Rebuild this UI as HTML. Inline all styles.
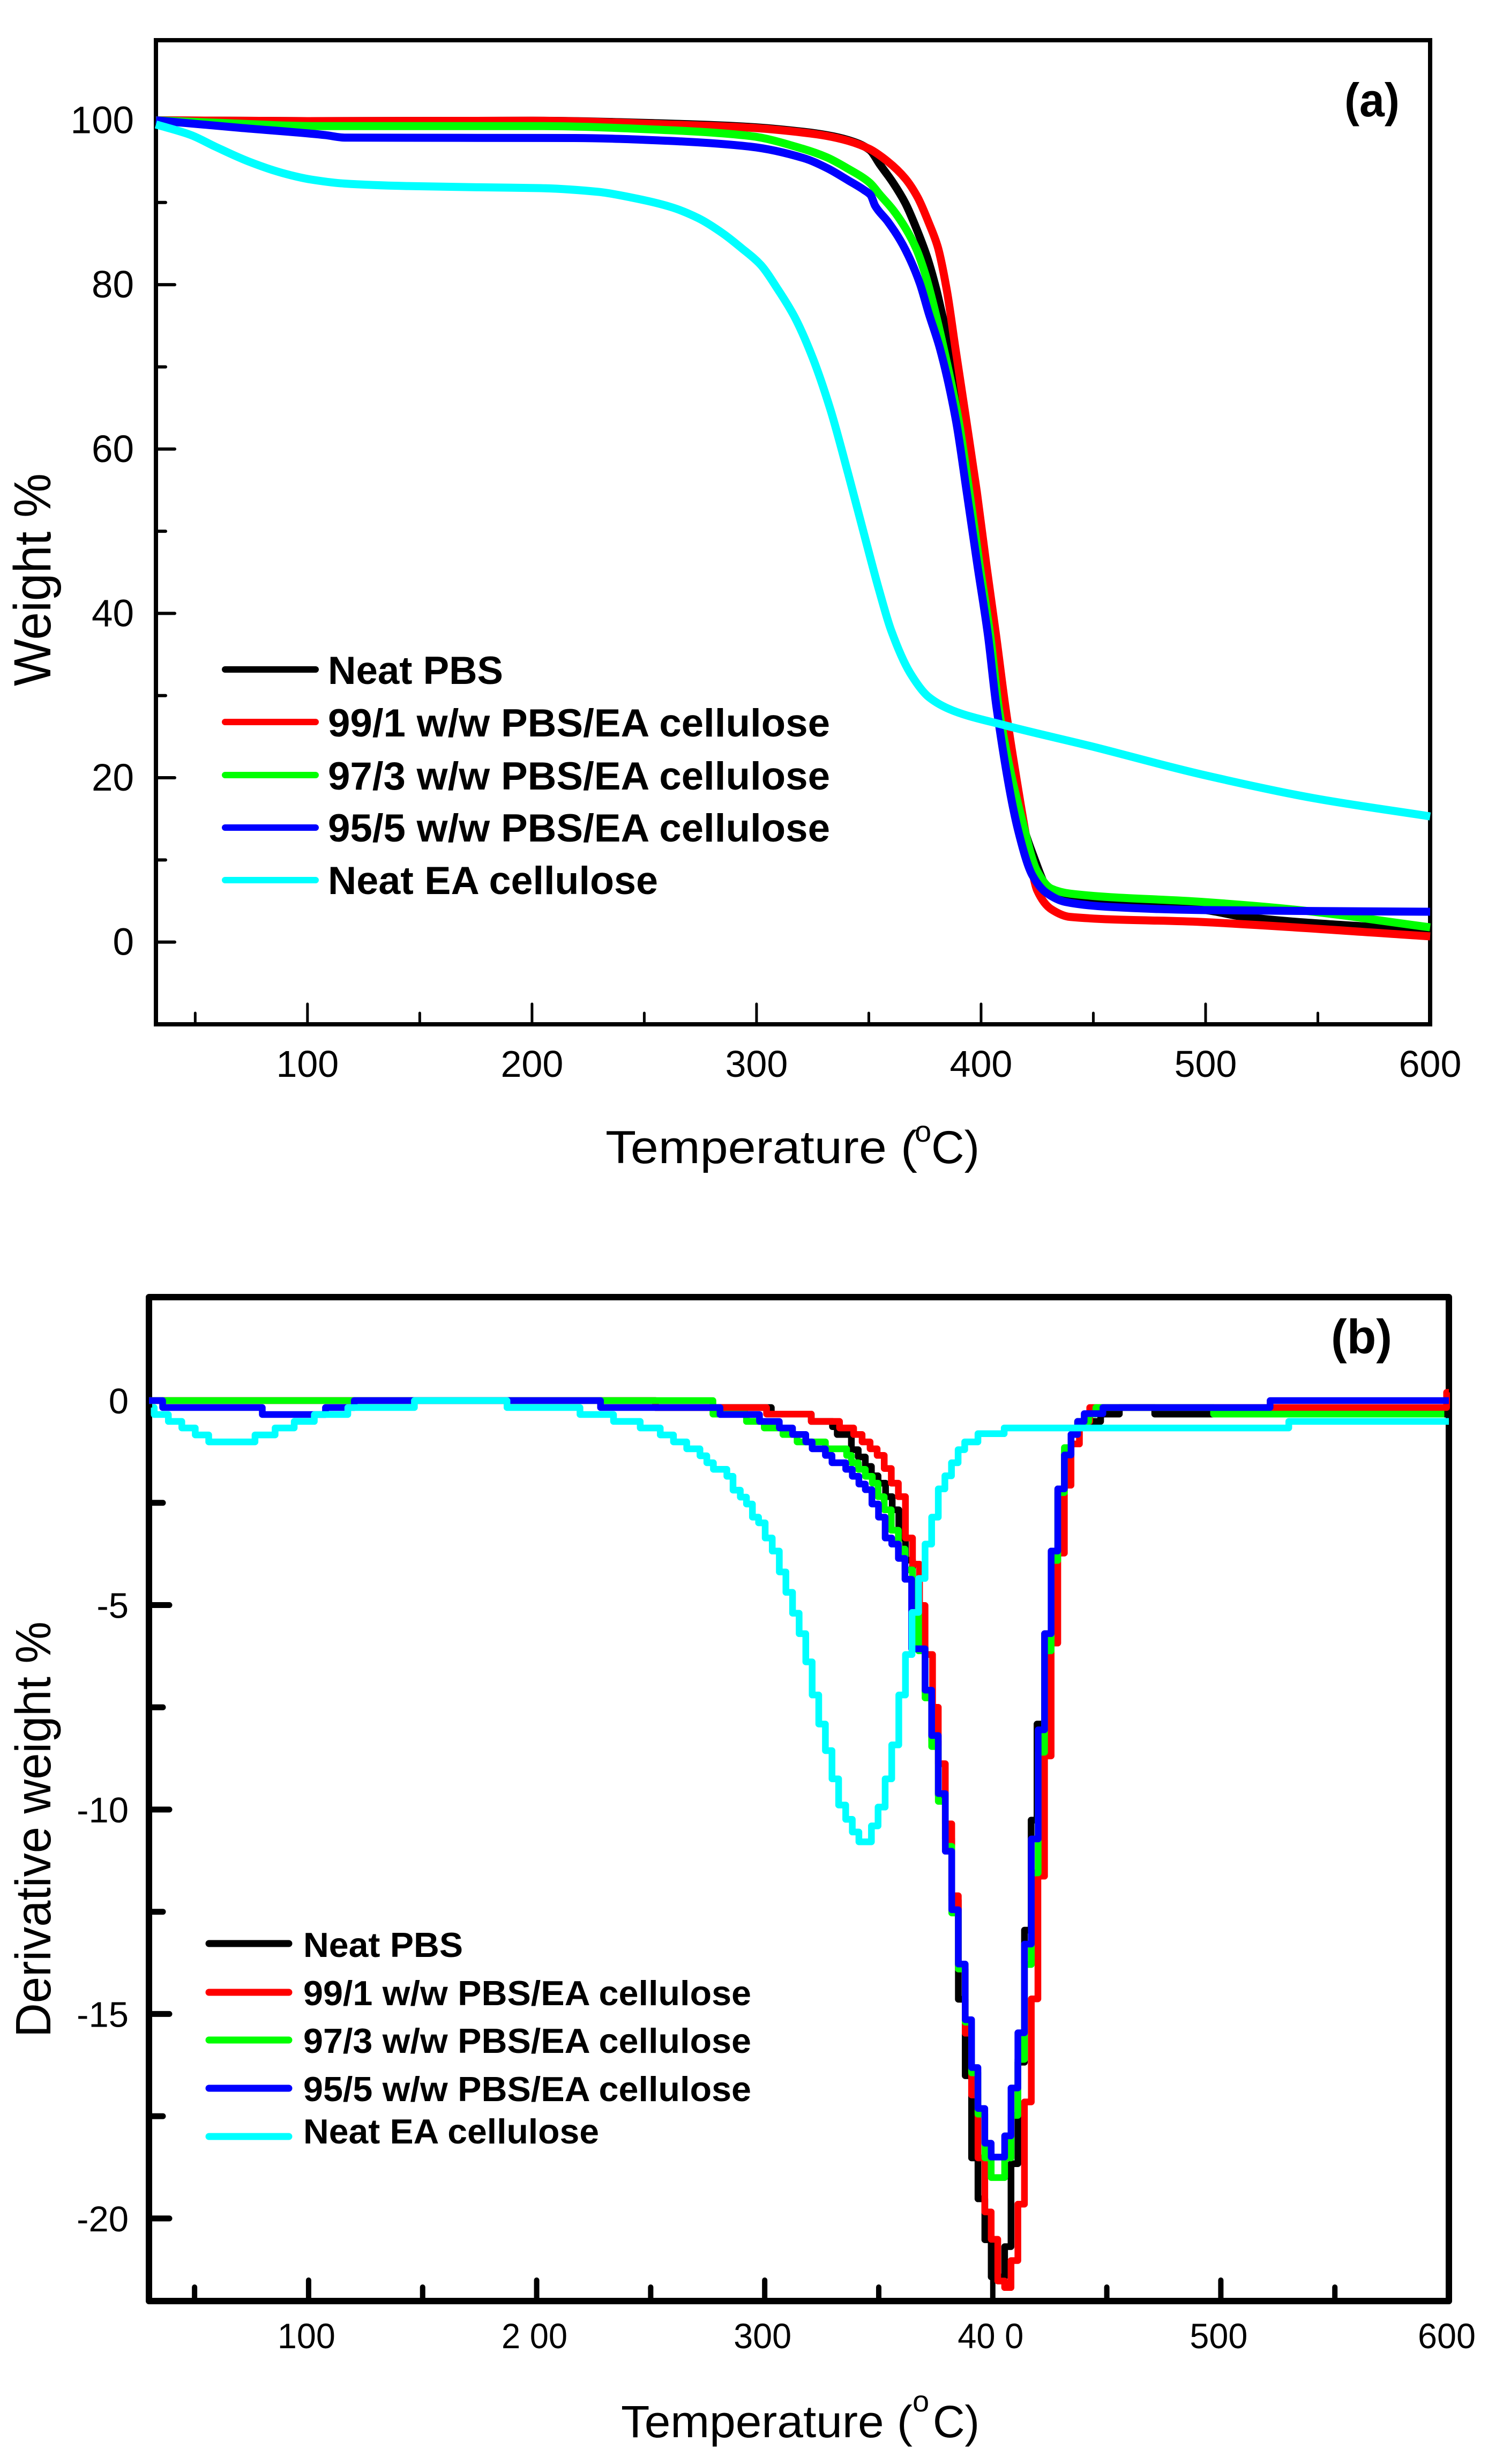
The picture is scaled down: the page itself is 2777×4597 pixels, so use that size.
<!DOCTYPE html>
<html lang="en">
<head>
<meta charset="utf-8">
<title>TGA and DTG curves of PBS/EA cellulose blends</title>
<style>
html,body{margin:0;padding:0;background:#fff;}
svg{display:block;}
text{font-family:"Liberation Sans",sans-serif;fill:#000;}
.legend{font-weight:bold;}
</style>
</head>
<body>
<svg id="figure" xmlns="http://www.w3.org/2000/svg" width="2777" height="4597" viewBox="0 0 2777 4597">
  <rect width="2777" height="4597" fill="#fff"/>
  <g id="panelA">
    <g id="axesA"></g>
    <g id="linesA"></g>
    <text x="2509" y="217" font-size="88" font-weight="bold" textLength="103" lengthAdjust="spacingAndGlyphs">(a)</text>
    <text transform="translate(94,1280) rotate(-90)" font-size="97" textLength="397" lengthAdjust="spacingAndGlyphs">Weight %</text>
    <text x="1130" y="2170" font-size="86" textLength="582" lengthAdjust="spacingAndGlyphs">Temperature (</text>
    <text x="1707" y="2130" font-size="56">o</text>
    <text x="1738" y="2170" font-size="86" textLength="90" lengthAdjust="spacingAndGlyphs">C)</text>
    <g>
      <g fill="none" stroke-width="12" stroke-linecap="round">
        <line x1="420" x2="589" y1="1249" y2="1249" stroke="#000"/>
        <line x1="420" x2="589" y1="1347" y2="1347" stroke="#f00"/>
        <line x1="420" x2="589" y1="1446" y2="1446" stroke="#0f0"/>
        <line x1="420" x2="589" y1="1544" y2="1544" stroke="#00f"/>
        <line x1="420" x2="589" y1="1642" y2="1642" stroke="#0ff"/>
      </g>
      <g class="legend" font-size="73">
        <text x="612" y="1276" textLength="327" lengthAdjust="spacingAndGlyphs">Neat PBS</text>
        <text x="612" y="1374" textLength="937" lengthAdjust="spacingAndGlyphs">99/1 w/w PBS/EA cellulose</text>
        <text x="612" y="1473" textLength="937" lengthAdjust="spacingAndGlyphs">97/3 w/w PBS/EA cellulose</text>
        <text x="612" y="1570" textLength="937" lengthAdjust="spacingAndGlyphs">95/5 w/w PBS/EA cellulose</text>
        <text x="612" y="1668" textLength="616" lengthAdjust="spacingAndGlyphs">Neat EA cellulose</text>
      </g>
    </g>
  </g>
  <g id="panelB">
    <g id="axesB"></g>
    <g id="linesB"></g>
    <text x="2484" y="2525" font-size="90" font-weight="bold" textLength="114" lengthAdjust="spacingAndGlyphs">(b)</text>
    <text transform="translate(94,3801) rotate(-90)" font-size="93" textLength="776" lengthAdjust="spacingAndGlyphs">Derivative weight %</text>
    <text x="1159" y="4547" font-size="84" textLength="544" lengthAdjust="spacingAndGlyphs">Temperature (</text>
    <text x="1703" y="4499" font-size="56">o</text>
    <text x="1741" y="4547" font-size="84" textLength="87" lengthAdjust="spacingAndGlyphs">C)</text>
    <g>
      <g fill="none" stroke-width="13" stroke-linecap="round">
        <line x1="390" x2="539" y1="3626" y2="3626" stroke="#000"/>
        <line x1="390" x2="539" y1="3717" y2="3717" stroke="#f00"/>
        <line x1="390" x2="539" y1="3806" y2="3806" stroke="#0f0"/>
        <line x1="390" x2="539" y1="3896" y2="3896" stroke="#00f"/>
        <line x1="390" x2="539" y1="3986" y2="3986" stroke="#0ff"/>
      </g>
      <g class="legend" font-size="65">
        <text x="566" y="3651" textLength="298" lengthAdjust="spacingAndGlyphs">Neat PBS</text>
        <text x="566" y="3741" textLength="836" lengthAdjust="spacingAndGlyphs">99/1 w/w PBS/EA cellulose</text>
        <text x="566" y="3830" textLength="836" lengthAdjust="spacingAndGlyphs">97/3 w/w PBS/EA cellulose</text>
        <text x="566" y="3920" textLength="836" lengthAdjust="spacingAndGlyphs">95/5 w/w PBS/EA cellulose</text>
        <text x="566" y="3999" textLength="552" lengthAdjust="spacingAndGlyphs">Neat EA cellulose</text>
      </g>
    </g>
  </g>
</svg>
<script>
// ---------- Panel (a): weight % vs temperature ----------
var weightYTicks = ['0', '20', '40', '60', '80', '100'];
var weightYMinorTicks = [10, 30, 50, 70, 90];
var weightXTicks = ['100', '200', '300', '400', '500', '600'];
var weightXMinorTicks = [50, 150, 250, 350, 450, 550];

var weightTempNeatPBS = [32.5,100,200,261,297,321,331.3,340.8,350.4,355,360.8,366.3,371.1,375.9,379.9,383,386.5,391.7,396.5,400.8,405.3,409.3,416,422.9,431,440,500,517,600];
var weightNeatPBS = [100,99.9,99.95,99.6,99.2,98.6,98.2,97.6,96.4,94.6,92.4,89.9,86.9,83.4,79.6,76,72.2,63.5,54.8,46,37.3,28.5,17,10.8,6,5,3.9,3.07,1.4];

var weightTemp991 = [32.5,100,200,261,297,321,331.3,340.8,350.4,358.4,366.3,371.8,376.6,380.7,384.7,388.6,393.4,398.1,402.3,406.7,410.9,416,420.8,425,431.3,439.6,498.3,600];
var weight991 = [100,99.9,99.95,99.5,99.1,98.5,98.1,97.5,96.5,95,92.9,90.6,87.6,84.6,79.4,72.2,63.5,54.8,46,37.3,28.5,19.5,11.8,6.3,4,3.07,2.45,0.7];

var weightTemp973 = [32.5,60,103.6,201.7,261,297,321,331.3,340.8,350.4,355.1,360.8,366.3,371.1,375,378.3,383.4,390,394.8,399.3,404.1,407.9,418.6,425,431.3,439.6,498.3,538,600];
var weight973 = [100,99.7,99.3,99.3,98.8,98.1,96.5,95.5,94.1,92.4,90.9,89.1,86.9,84.4,81.4,78.1,72.2,63.5,54.8,46,37.3,28.5,14.5,8.6,6.5,5.9,4.9,4,1.8];

var weightTemp955 = [32.5,69.5,108,116.5,218.6,261,297,321,331.3,340.8,348,350.8,352.8,358.4,364,368.7,372.8,376.6,381.7,388.8,393.6,398.3,403.1,406.9,416.5,422.9,429.1,437.5,456.3,498.3,600];
var weight955 = [100,99.1,98.2,97.9,97.85,97.5,96.8,95.4,94.2,92.7,91.5,90.9,89.6,87.7,85.4,82.9,80.1,76.6,72.2,63.5,54.8,46,37.3,28.5,13.6,8.1,6,4.9,4.3,3.9,3.7];

var weightTempNeatEA = [32.5,48.2,58.9,73.7,88.7,101.5,116.5,144.2,176,203.8,229.4,244.4,261.3,274,285.2,293.1,301.9,309.1,316.9,325,332.9,340.8,348.9,354.4,360,368.3,376.8,387.2,410.3,448,498.3,548.5,600];
var weightNeatEA = [99.5,98.2,96.8,95,93.6,92.8,92.3,92,91.85,91.75,91.3,90.6,89.5,88.1,86.2,84.5,82.4,79.6,76.1,71.1,64.8,57,48.6,43,37.9,32.8,29.8,28.2,26.4,23.9,20.4,17.5,15.3];

// ---------- Panel (b): derivative weight % vs temperature (stepped) ----------
var derivYTicks = ['0', '-5', '-10', '-15', '-20'];
var derivYMinorTicks = [-2.5, -7.5, -12.5, -17.5];
var derivXTicks = ['100', '2 00', '300', '40 0', '500', '600'];
var derivXTickValues = [100, 200, 300, 400, 500, 600];
var derivXMinorTicks = [50, 150, 250, 350, 450, 550];

var derivTempNeatPBS = [30,252.1,302.9,320.4,329.7,331.8,338,341,344.1,346.8,349.7,353,355.9,358.8,361.7,364.8,367.5,370.3,373.2,376.1,379.2,382,384.9,387.9,390.7,393.5,396.5,399.3,405.2,408,411,413.9,416.8,419.4,422.7,425.6,428.5,431.4,434.3,437.2,447.3,455.5,471,600];
var derivNeatPBS = [0,-0.17,-0.33,-0.51,-0.64,-0.83,-1.2,-1.38,-1.61,-1.84,-2.02,-2.35,-2.67,-3.36,-3.9,-4.83,-6.03,-7.13,-8.33,-9.66,-10.72,-12.22,-14.64,-16.51,-18.52,-19.52,-20.52,-21.43,-20.69,-18.66,-16.18,-12.95,-10.26,-7.91,-5.7,-3.68,-2.16,-1.33,-0.83,-0.51,-0.33,-0.17,-0.33,-0.33];

var derivTemp991 = [30,252.1,300.8,320.4,332.8,339,342.7,346.2,349.3,352.4,355.5,358.6,361.7,364.8,367.9,370.3,373.6,376.1,379.2,382,384.9,387.9,390.7,393.5,396.5,399.3,402.2,405.2,408,411,413.9,416.9,419.8,422.7,425.6,428.5,431.4,434.3,438,442.5,599,600];
var deriv991 = [0,-0.17,-0.33,-0.51,-0.67,-0.83,-1.01,-1.18,-1.34,-1.66,-2.02,-2.35,-3.36,-4,-5.01,-6.21,-7.5,-8.88,-10.35,-12.11,-13.9,-15.47,-16.98,-18.52,-19.84,-20.51,-21.53,-21.69,-21.03,-19.65,-17.15,-14.63,-11.63,-8.69,-5.93,-3.73,-2.07,-1.06,-0.51,-0.17,0.2,0.2];

var derivTemp973 = [30,277.3,292,299.8,308,314.2,326.6,335.9,338,341,344.1,347.2,349.7,352.4,355.5,358.6,361.5,364.8,367.5,370.3,373.2,376.1,379.2,382,384.9,387.9,390.7,393.5,396.5,399.3,405.2,408,411,413.9,416.9,419.9,422.7,425.6,428.5,431.4,434.3,437.2,442.1,445.2,496.8,598];
var deriv973 = [0,-0.33,-0.51,-0.67,-0.83,-1.01,-1.18,-1.34,-1.52,-1.68,-1.85,-2.02,-2.35,-2.67,-3.17,-3.63,-4.14,-5.1,-6.12,-7.27,-8.46,-9.8,-10.9,-12.53,-13.9,-15.2,-16.44,-17.45,-18.52,-19,-18.52,-17.48,-16.11,-13.79,-11.55,-8.6,-6.12,-3.91,-2.25,-1.15,-0.83,-0.51,-0.33,-0.17,-0.33,-0.33];

var derivTemp955 = [30,36,79.7,107.4,120,228,280.4,297.7,306.4,312.2,318,320.8,326.6,329.5,335.5,338.4,341.3,344.1,347,349.9,352.8,355.7,358.6,361.5,364.4,370.3,373.2,376.1,379.2,382,384.9,387.9,390.7,393.5,396.5,399.3,405.2,408,411,413.9,416.9,419.9,422.7,425.6,428.5,431.4,434.3,437.2,440.1,448.3,521.6,600];
var deriv955 = [0,-0.17,-0.34,-0.17,0,-0.17,-0.34,-0.51,-0.67,-0.83,-1.01,-1.18,-1.34,-1.52,-1.68,-1.85,-2.04,-2.18,-2.53,-2.85,-3.36,-3.51,-3.86,-4.37,-6.07,-7.08,-8.19,-9.61,-11.02,-12.45,-13.78,-15.14,-16.31,-17.31,-18.16,-18.5,-17.98,-16.81,-15.46,-13.29,-10.72,-8.05,-5.7,-3.68,-2.16,-1.33,-0.83,-0.51,-0.32,-0.17,0,0];

var derivTempNeatEA = [31.4,32.3,38.5,44.4,50.3,56.2,76.5,85.3,93.7,102.5,117.2,146.4,187,219,233.7,245.4,254.2,260,265.8,271.6,274.6,277.5,283.4,286.1,289.3,292,294.6,297.3,300.2,303.3,306.4,309.3,312.2,315.1,318,320.8,323.7,326.6,329.5,332.4,335.5,338.4,341.3,346.8,349.7,352.8,355.7,358.8,361.7,364.6,367.5,370.3,373.2,376.1,379,381.9,384.8,387.7,393.5,405,529.8,600];
var derivNeatEA = [-0.17,-0.34,-0.51,-0.67,-0.84,-1.01,-0.84,-0.67,-0.51,-0.34,-0.17,0,-0.17,-0.34,-0.51,-0.67,-0.84,-1.01,-1.18,-1.35,-1.52,-1.68,-1.85,-2.19,-2.36,-2.53,-2.85,-2.99,-3.36,-3.68,-4.19,-4.69,-5.2,-5.7,-6.39,-7.2,-7.91,-8.56,-9.25,-9.89,-10.24,-10.55,-10.79,-10.4,-9.94,-9.25,-8.42,-7.2,-6.21,-5.18,-4.35,-3.51,-2.85,-2.16,-1.84,-1.52,-1.2,-1.01,-0.81,-0.67,-0.51,-0.51];

var SVGNS = 'http://www.w3.org/2000/svg';

function linearScale(d0, d1, r0, r1) {
  return function (v) { return r0 + (v - d0) * (r1 - r0) / (d1 - d0); };
}
function shape(parent, tag, attrs) {
  var el = document.createElementNS(SVGNS, tag);
  for (var k in attrs) { el.setAttribute(k, attrs[k]); }
  parent.appendChild(el);
  return el;
}
// Monotone cubic through the data points, so the weight-loss curves stay smooth.
function smoothPath(temps, vals, x, y) {
  var n = temps.length;
  var px = temps.map(x);
  var py = vals.map(y);
  var sec = [];
  var tan = [];
  var i;
  for (i = 0; i < n - 1; i++) { sec.push((py[i + 1] - py[i]) / (px[i + 1] - px[i])); }
  tan[0] = sec[0];
  tan[n - 1] = sec[n - 2];
  for (i = 1; i < n - 1; i++) {
    if (sec[i - 1] * sec[i] <= 0) { tan[i] = 0; }
    else {
      var a = px[i] - px[i - 1];
      var b = px[i + 1] - px[i];
      tan[i] = 3 * (a + b) / ((2 * b + a) / sec[i - 1] + (b + 2 * a) / sec[i]);
    }
  }
  var d = 'M' + px[0].toFixed(1) + ' ' + py[0].toFixed(1);
  for (i = 0; i < n - 1; i++) {
    var h = (px[i + 1] - px[i]) / 3;
    d += 'C' + (px[i] + h).toFixed(1) + ' ' + (py[i] + tan[i] * h).toFixed(1) + ' ' +
         (px[i + 1] - h).toFixed(1) + ' ' + (py[i + 1] - tan[i + 1] * h).toFixed(1) + ' ' +
         px[i + 1].toFixed(1) + ' ' + py[i + 1].toFixed(1);
  }
  return d;
}
function stepPath(temps, vals, x, y) {
  var d = 'M' + x(temps[0]).toFixed(1) + ' ' + y(vals[0]).toFixed(1);
  for (var i = 1; i < temps.length; i++) {
    d += 'H' + x(temps[i]).toFixed(1) + 'V' + y(vals[i]).toFixed(1);
  }
  return d;
}
function drawSeries(parent, name, d, color, width) {
  var p = shape(parent, 'path', { d: d, fill: 'none', stroke: color, 'stroke-width': width, 'stroke-linejoin': 'round', 'stroke-linecap': 'butt' });
  
  
}
function drawTick(parent, name, x1, y1, x2, y2, width, cap) {
  var t = shape(parent, 'line', { x1: x1, y1: y1, x2: x2, y2: y2, stroke: '#000', 'stroke-width': width, 'stroke-linecap': cap });
  
  
}
function drawLabel(parent, name, str, x, y, size, anchor, length) {
  var t = shape(parent, 'text', { x: x, y: y, 'font-size': size, 'text-anchor': anchor });
  if (length) {
    t.setAttribute('textLength', length);
    t.setAttribute('lengthAdjust', 'spacingAndGlyphs');
  }
  
  
  t.textContent = str;
}

// ---- Panel (a) ----
var xA = linearScale(32.5, 600, 291, 2669);
var yA = linearScale(-10, 109.75, 1911, 75);
var axesA = document.getElementById('axesA');
var linesA = document.getElementById('linesA');

var frameA = shape(axesA, 'rect', { x: 291, y: 75, width: 2378, height: 1836, fill: 'none', stroke: '#000', 'stroke-width': 8 });



weightYTicks.forEach(function (lab) {
  var py = yA(Number(lab));
  drawTick(axesA, 'panel-a-y-tick-' + lab, 291, py, 326, py, 6, 'round');
  drawLabel(axesA, 'panel-a-y-tick-label-' + lab, lab, 250, py + 24, 71, 'end');
});
weightYMinorTicks.forEach(function (v) {
  drawTick(axesA, 'panel-a-y-minor-tick-' + v, 291, yA(v), 309, yA(v), 6, 'round');
});
weightXTicks.forEach(function (lab) {
  var px = xA(Number(lab));
  drawTick(axesA, 'panel-a-x-tick-' + lab, px, 1911, px, 1873, 5, 'round');
  drawLabel(axesA, 'panel-a-x-tick-label-' + lab, lab, px, 2009, 70, 'middle');
});
weightXMinorTicks.forEach(function (v) {
  drawTick(axesA, 'panel-a-x-minor-tick-' + v, xA(v), 1911, xA(v), 1890, 5, 'round');
});

drawSeries(linesA, 'panel-a-line-neat-pbs', smoothPath(weightTempNeatPBS, weightNeatPBS, xA, yA), '#000', 15);
drawSeries(linesA, 'panel-a-line-99-1', smoothPath(weightTemp991, weight991, xA, yA), '#f00', 15);
drawSeries(linesA, 'panel-a-line-97-3', smoothPath(weightTemp973, weight973, xA, yA), '#0f0', 15);
drawSeries(linesA, 'panel-a-line-95-5', smoothPath(weightTemp955, weight955, xA, yA), '#00f', 15);
drawSeries(linesA, 'panel-a-line-neat-ea', smoothPath(weightTempNeatEA, weightNeatEA, xA, yA), '#0ff', 15);

// ---- Panel (b) ----
var xB = linearScale(30, 600, 278, 2704);
var yB = linearScale(-22.02, 2.53, 4293, 2420);
var axesB = document.getElementById('axesB');
var linesB = document.getElementById('linesB');

var frameB = shape(axesB, 'rect', { x: 278, y: 2420, width: 2426, height: 1873, fill: 'none', stroke: '#000', 'stroke-width': 12, 'stroke-linejoin': 'round' });



derivYTicks.forEach(function (lab) {
  var py = yB(Number(lab));
  drawTick(axesB, 'panel-b-y-tick-' + lab, 278, py, 316, py, 11, 'round');
  drawLabel(axesB, 'panel-b-y-tick-label-' + lab, lab, 240, py + 24, 67, 'end');
});
derivYMinorTicks.forEach(function (v) {
  drawTick(axesB, 'panel-b-y-minor-tick-' + v, 278, yB(v), 304, yB(v), 11, 'round');
});
derivXTicks.forEach(function (lab, i) {
  var px = xB(derivXTickValues[i]);
  drawTick(axesB, 'panel-b-x-tick-' + derivXTickValues[i], px, 4293, px, 4254, 10, 'round');
  drawLabel(axesB, 'panel-b-x-tick-label-' + derivXTickValues[i], lab, px - 4, 4381, 66, 'middle', lab.length > 3 ? 123 : 108);
});
derivXMinorTicks.forEach(function (v) {
  drawTick(axesB, 'panel-b-x-minor-tick-' + v, xB(v), 4293, xB(v), 4267, 10, 'round');
});

drawSeries(linesB, 'panel-b-line-neat-pbs', stepPath(derivTempNeatPBS, derivNeatPBS, xB, yB), '#000', 12.5);
drawSeries(linesB, 'panel-b-line-99-1', stepPath(derivTemp991, deriv991, xB, yB), '#f00', 12.5);
drawSeries(linesB, 'panel-b-line-97-3', stepPath(derivTemp973, deriv973, xB, yB), '#0f0', 12.5);
drawSeries(linesB, 'panel-b-line-95-5', stepPath(derivTemp955, deriv955, xB, yB), '#00f', 12.5);
drawSeries(linesB, 'panel-b-line-neat-ea', stepPath(derivTempNeatEA, derivNeatEA, xB, yB), '#0ff', 12.5);
</script>
</body>
</html>
